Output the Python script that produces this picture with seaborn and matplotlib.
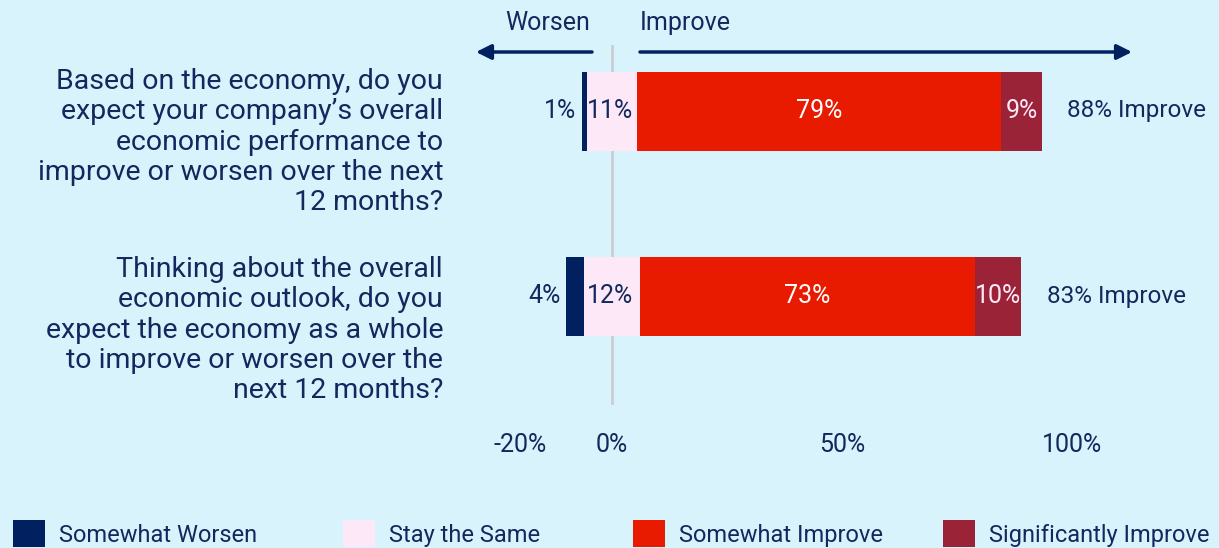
import matplotlib
matplotlib.use("Agg")
import matplotlib.pyplot as plt
from matplotlib.patches import Patch, FancyArrowPatch
import seaborn as sns
import pandas as pd

# ---------------- data ----------------
questions = [
    "Based on the economy, do you\nexpect your company\u2019s overall\neconomic performance to\nimprove or worsen over the next\n12 months?",
    "Thinking about the overall\neconomic outlook, do you\nexpect the economy as a whole\nto improve or worsen over the\nnext 12 months?",
]
categories = ["Somewhat Worsen", "Stay the Same", "Somewhat Improve", "Significantly Improve"]
somewhat_worsen = [1, 4]
stay_same = [11, 12]
somewhat_improve = [79, 73]
significantly_improve = [9, 10]
improve_totals = [88, 83]
tick_values = [-20, 0, 50, 100]
tick_labels = ["-20%", "0%", "50%", "100%"]

# ---------------- style ----------------
BG = "#d9f3fc"
NAVY_TXT = "#13295e"
C_WORSEN = "#002060"
C_SAME = "#fde8f7"
C_SOME = "#e81a00"
C_SIG = "#9b2338"
colors = [C_WORSEN, C_SAME, C_SOME, C_SIG]

sns.set_theme(style="white")
plt.rcParams["font.family"] = ["Roboto", "DejaVu Sans"]
plt.rcParams["text.color"] = NAVY_TXT
FS = 18
FSQ = 20.5
FSL = 17

W, H = 1219, 548
fig = plt.figure(figsize=(W / 100, H / 100), dpi=100, facecolor=BG)

# axes placement (pixels)
ax_l, ax_r, ax_t, ax_b = 460, 1200, 45, 405
zero_px, k = 612, 4.6
xmin = (ax_l - zero_px) / k
xmax = (ax_r - zero_px) / k
c0, step = 111, 185
ymin = (ax_t - c0) / step
ymax = (ax_b - c0) / step

ax = fig.add_axes([ax_l / W, 1 - ax_b / H, (ax_r - ax_l) / W, (ax_b - ax_t) / H])
ax.set_facecolor(BG)

df = pd.DataFrame({
    "q": ["q0", "q1"],
    "worsen": somewhat_worsen,
    "same": stay_same,
    "some": somewhat_improve,
    "sig": significantly_improve,
})
df["same_left"] = -df["same"] / 2
df["worsen_left"] = df["same_left"] - df["worsen"]
df["some_left"] = df["same"] / 2
df["sig_left"] = df["some_left"] + df["some"]

bw = 79 / step
ax.axvline(0, color="#c9cfd3", lw=2, zorder=0)
segments = [("worsen", "worsen_left", C_WORSEN),
            ("same", "same_left", C_SAME),
            ("some", "some_left", C_SOME),
            ("sig", "sig_left", C_SIG)]
for val, left, col in segments:
    sns.barplot(data=df, y="q", x=val, orient="h", color=col, width=bw, saturation=1,
                left=df[left].tolist(), linewidth=0, ax=ax, zorder=2)

ax.set_xlim(xmin, xmax)
ax.set_ylim(ymax, ymin)

# bar labels
for i in range(len(df)):
    r = df.iloc[i]
    ax.text(r["worsen_left"] - 1.2, i, f"{r['worsen']}%", ha="right", va="center",
            fontsize=FS, color=NAVY_TXT)
    ax.text(-0.5, i, f"{r['same']}%", ha="center", va="center", fontsize=FS, color=NAVY_TXT)
    ax.text(r["some_left"] + r["some"] / 2, i, f"{r['some']}%", ha="center", va="center",
            fontsize=FS, color="white")
    ax.text(r["sig_left"] + r["sig"] / 2, i, f"{r['sig']}%", ha="center", va="center",
            fontsize=FS, color="#fde8f7")
    ax.text(r["sig_left"] + r["sig"] + 5.5, i, f"{improve_totals[i]}% Improve", ha="left",
            va="center", fontsize=17.5, color=NAVY_TXT)

# ticks
ax.set_xticks(tick_values)
ax.set_xticklabels(tick_labels, fontsize=FS, color=NAVY_TXT)
ax.set_yticks([])
ax.set_ylabel("")
ax.set_xlabel("")
ax.tick_params(axis="x", length=0, pad=20)
for s in ax.spines.values():
    s.set_visible(False)

# questions
for i, q in enumerate(questions):
    ycen = c0 + step * i
    fig.text(443 / W, 1 - (ycen + 31 + 3 * i) / H, q, ha="right", va="center", fontsize=FSQ,
             color=NAVY_TXT, linespacing=1.16)

# header arrows
fig.text(548 / W, 1 - 23 / H, "Worsen", ha="center", va="center", fontsize=FS, color=NAVY_TXT)
fig.text(640 / W, 1 - 23 / H, "Improve", ha="left", va="center", fontsize=FS, color=NAVY_TXT)
arrow_kw = dict(arrowstyle="-|>,head_length=0.9,head_width=0.45", color=C_WORSEN, lw=2.5,
                mutation_scale=10, shrinkA=0, shrinkB=0)
fig.add_artist(FancyArrowPatch((592 / W, 1 - 52 / H), (476 / W, 1 - 52 / H),
               transform=fig.transFigure, **arrow_kw))
fig.add_artist(FancyArrowPatch((640 / W, 1 - 52 / H), (1132 / W, 1 - 52 / H),
               transform=fig.transFigure, **arrow_kw))

# legend: one entry per slot along the bottom
legend_x_px = [13, 343, 633, 943]
for c, l, xp in zip(colors, categories, legend_x_px):
    leg = fig.legend(handles=[Patch(facecolor=c, edgecolor="none", label=l)],
                     loc="lower left", bbox_to_anchor=(xp / W, 1 / H),
                     frameon=False, fontsize=FSL, handlelength=1.35, handleheight=1.35,
                     handletextpad=0.6, borderaxespad=0, borderpad=0)
    for t in leg.get_texts():
        t.set_color(NAVY_TXT)

fig.savefig("out.png", dpi=100, facecolor=BG)
